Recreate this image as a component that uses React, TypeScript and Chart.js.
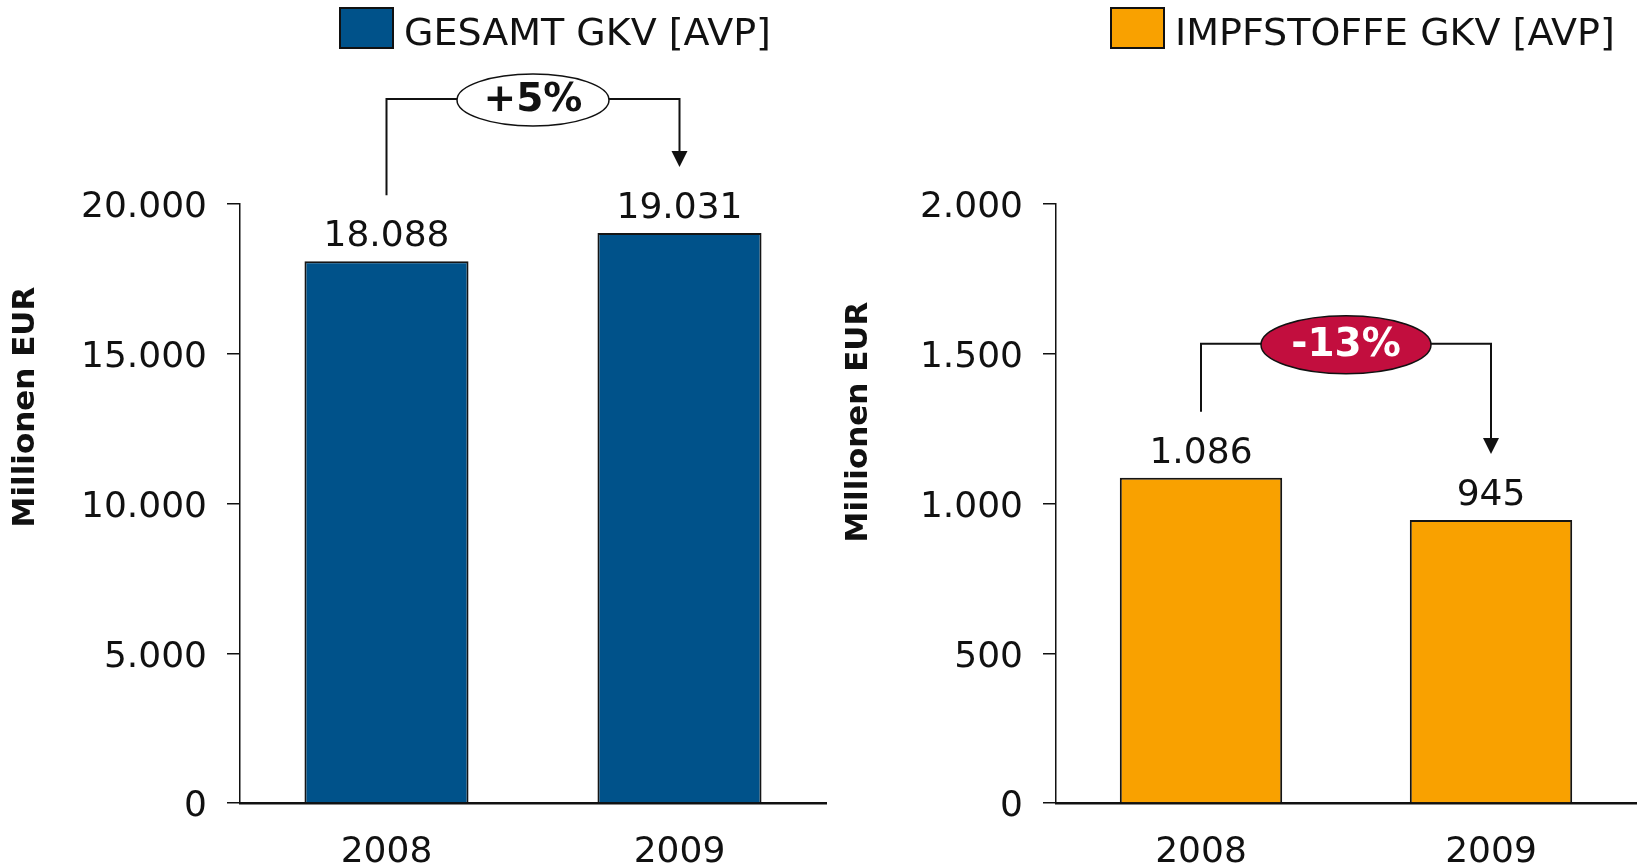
import React, { useEffect, useRef } from "react";
import { Chart, registerables } from "chart.js";

Chart.register(...registerables);

// ---- data ----
const categories = ["2008", "2009"];
const gesamtValues = [18088, 19031];
const impfValues = [1086, 945];
const gesamtTicks = [0, 5000, 10000, 15000, 20000];
const impfTicks = [0, 500, 1000, 1500, 2000];
const gesamtLabel = "GESAMT GKV [AVP]";
const impfLabel = "IMPFSTOFFE GKV [AVP]";
const gesamtChange = "+5%";
const impfChange = "-13%";
const yTitle = "Millionen EUR";

const FONT = "'DejaVu Sans', Verdana, sans-serif";
const INK = "#111111";

const fmt = (v: number) =>
  String(Math.round(v)).replace(/\B(?=(\d{3})+(?!\d))/g, ".");

type Cfg = {
  label: string;
  values: number[];
  ticks: number[];
  color: string;
  change: string;
  badgeFill: string;
  badgeText: string;
  rx: number;
  ry: number;
  legendX: number;
  titleX: number;
  titleY: number;
  yWidth: number;
  padRight: number;
};

function makeChart(canvas: HTMLCanvasElement, cfg: Cfg) {
  const overlay = {
    id: "overlay-" + cfg.label,
    afterDatasetsDraw(chart: any) {
      const ctx = chart.ctx as CanvasRenderingContext2D;
      const meta = chart.getDatasetMeta(0);
      ctx.save();
      // value labels
      ctx.font = `36px ${FONT}`;
      ctx.fillStyle = INK;
      ctx.textAlign = "center";
      ctx.textBaseline = "alphabetic";
      meta.data.forEach((bar: any, i: number) => {
        ctx.fillText(fmt(cfg.values[i]), bar.x, bar.y - 15);
      });

      // bracket + arrow
      const b0 = meta.data[0];
      const b1 = meta.data[1];
      const topY = Math.min(b0.y, b1.y) - 134;
      const endY = b1.y - 66;
      ctx.strokeStyle = INK;
      ctx.lineWidth = 2;
      ctx.beginPath();
      ctx.moveTo(b0.x, b0.y - 66);
      ctx.lineTo(b0.x, topY);
      ctx.lineTo(b1.x, topY);
      ctx.lineTo(b1.x, endY - 14);
      ctx.stroke();
      ctx.fillStyle = INK;
      ctx.beginPath();
      ctx.moveTo(b1.x - 8, endY - 16);
      ctx.lineTo(b1.x + 8, endY - 16);
      ctx.lineTo(b1.x, endY);
      ctx.closePath();
      ctx.fill();

      // badge
      const cx = (b0.x + b1.x) / 2;
      const cy = topY + 1;
      ctx.beginPath();
      ctx.ellipse(cx, cy, cfg.rx, cfg.ry, 0, 0, Math.PI * 2);
      ctx.fillStyle = cfg.badgeFill;
      ctx.fill();
      ctx.lineWidth = 1.5;
      ctx.strokeStyle = INK;
      ctx.stroke();
      ctx.font = `bold 39px ${FONT}`;
      ctx.fillStyle = cfg.badgeText;
      ctx.textAlign = "center";
      ctx.textBaseline = "middle";
      ctx.fillText(cfg.change, cx, cy + 1);

      // legend
      ctx.fillStyle = cfg.color;
      ctx.fillRect(cfg.legendX, 8, 53, 40);
      ctx.lineWidth = 2;
      ctx.strokeStyle = INK;
      ctx.strokeRect(cfg.legendX, 8, 53, 40);
      ctx.font = `38px ${FONT}`;
      ctx.fillStyle = INK;
      ctx.textAlign = "left";
      ctx.textBaseline = "alphabetic";
      ctx.fillText(cfg.label, cfg.legendX + 64, 45);

      // y title
      ctx.translate(cfg.titleX, cfg.titleY);
      ctx.rotate(-Math.PI / 2);
      ctx.font = `bold 31px ${FONT}`;
      ctx.textAlign = "center";
      ctx.textBaseline = "middle";
      ctx.fillText(yTitle, 0, 0);
      ctx.restore();
    },
  };

  return new Chart(canvas, {
    type: "bar",
    data: {
      labels: categories,
      datasets: [
        {
          label: cfg.label,
          data: cfg.values,
          backgroundColor: cfg.color,
          borderColor: "#151515",
          borderWidth: 2,
          barPercentage: 0.56,
          categoryPercentage: 1,
        },
      ],
    },
    options: {
      animation: false,
      responsive: false,
      maintainAspectRatio: false,
      devicePixelRatio: 1,
      layout: { padding: { top: 204, left: 0, right: cfg.padRight, bottom: 0 } },
      plugins: { legend: { display: false }, tooltip: { enabled: false } },
      scales: {
        x: {
          afterFit: (s: any) => {
            s.height = 63;
          },
          grid: { display: false, drawTicks: false },
          border: { display: true, color: INK, width: 2.5 },
          ticks: { color: INK, font: { family: FONT, size: 36 }, padding: 28 },
        },
        y: {
          min: cfg.ticks[0],
          max: cfg.ticks[cfg.ticks.length - 1],
          afterFit: (s: any) => {
            s.width = cfg.yWidth;
          },
          afterBuildTicks: (s: any) => {
            s.ticks = cfg.ticks.map((v) => ({ value: v }));
          },
          grid: {
            display: true,
            drawOnChartArea: false,
            drawTicks: true,
            tickLength: 13,
            color: INK,
            lineWidth: 1.5,
          },
          border: { display: true, color: INK, width: 1.5 },
          ticks: {
            color: INK,
            font: { family: FONT, size: 36 },
            padding: 20,
            labelOffset: 4,
            callback: (v: any) => fmt(Number(v)),
          },
        },
      },
    },
    plugins: [overlay],
  } as any);
}

export default function App() {
  const leftRef = useRef<HTMLCanvasElement>(null);
  const rightRef = useRef<HTMLCanvasElement>(null);

  useEffect(() => {
    const left = makeChart(leftRef.current!, {
      label: gesamtLabel,
      values: gesamtValues,
      ticks: gesamtTicks,
      color: "#00528A",
      change: gesamtChange,
      badgeFill: "#ffffff",
      badgeText: INK,
      rx: 76,
      ry: 26,
      legendX: 340,
      titleX: 26,
      titleY: 407,
      yWidth: 240,
      padRight: 4,
    });
    const right = makeChart(rightRef.current!, {
      label: impfLabel,
      values: impfValues,
      ticks: impfTicks,
      color: "#F9A100",
      change: impfChange,
      badgeFill: "#C20E3E",
      badgeText: "#ffffff",
      rx: 85,
      ry: 29,
      legendX: 281,
      titleX: 29,
      titleY: 422,
      yWidth: 226,
      padRight: 3,
    });
    return () => {
      left.destroy();
      right.destroy();
    };
  }, []);

  return (
    <div
      style={{
        position: "absolute",
        left: 0,
        top: 0,
        width: 1639,
        height: 866,
        background: "#ffffff",
        overflow: "hidden",
      }}
    >
      <canvas
        ref={leftRef}
        width={830}
        height={866}
        style={{ position: "absolute", left: 0, top: 0, width: 830, height: 866 }}
      />
      <canvas
        ref={rightRef}
        width={809}
        height={866}
        style={{ position: "absolute", left: 830, top: 0, width: 809, height: 866 }}
      />
    </div>
  );
}
